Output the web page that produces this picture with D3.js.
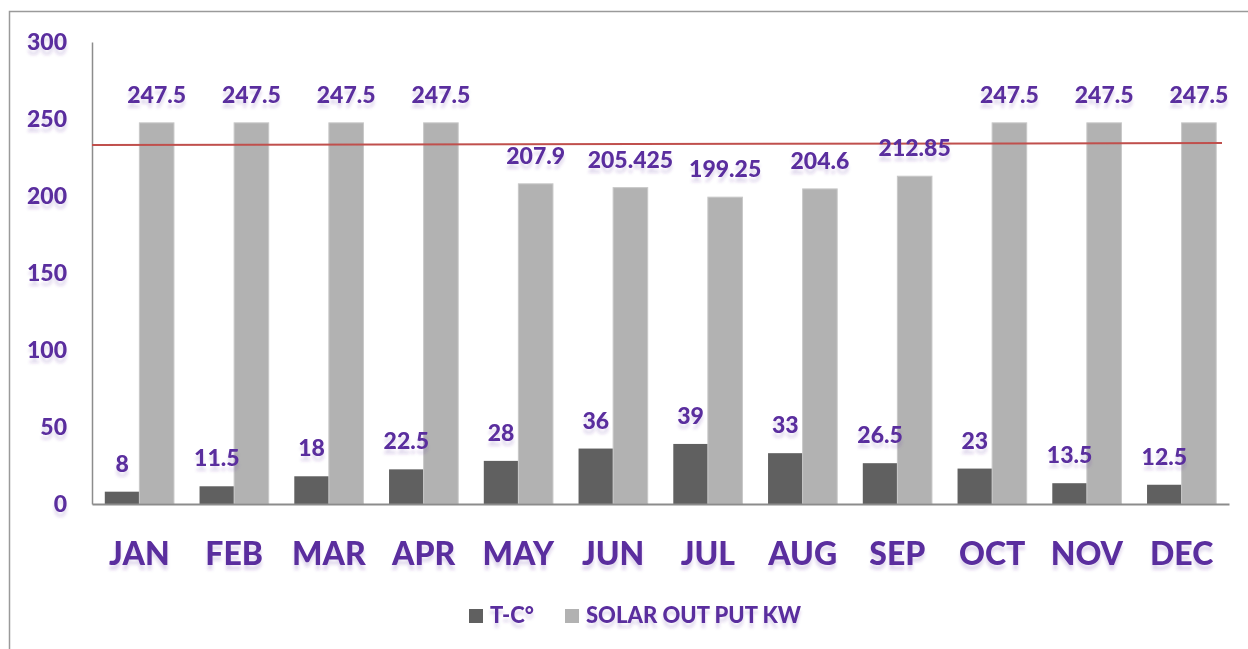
<!DOCTYPE html>
<html><head><meta charset="utf-8">
<script src="https://cdn.jsdelivr.net/npm/d3@7"></script>
<style>html,body{margin:0;padding:0;background:#fff;}svg{display:block;}</style>
</head><body>
<svg id="chart" width="1248" height="649"></svg>
<script>
const months = ["JAN","FEB","MAR","APR","MAY","JUN","JUL","AUG","SEP","OCT","NOV","DEC"];
const tempC = [8,11.5,18,22.5,28,36,39,33,26.5,23,13.5,12.5];
const solarKW = [247.5,247.5,247.5,247.5,207.9,205.425,199.25,204.6,212.85,247.5,247.5,247.5];
const yTicks = [0,50,100,150,200,250,300];
const seriesNames = ["T-C°","SOLAR OUT PUT KW"];
const refLine = [233.1, 234.4];

const purple = "#5a2d9e";
const colors = ["#606060","#b2b2b2"];
const font = "Lato, 'Open Sans', sans-serif";

const svg = d3.select("#chart");
const defs = svg.append("defs");
const f = defs.append("filter").attr("id","soft").attr("x","-10%").attr("y","-10%").attr("width","120%").attr("height","160%");
f.append("feOffset").attr("in","SourceAlpha").attr("dy",5).attr("result","off");
f.append("feGaussianBlur").attr("in","off").attr("stdDeviation",1.8).attr("result","blur");
f.append("feFlood").attr("flood-color",purple).attr("flood-opacity",0.18).attr("result","col");
f.append("feComposite").attr("in","col").attr("in2","blur").attr("operator","in").attr("result","sh");
const fm = f.append("feMerge");
fm.append("feMergeNode").attr("in","sh");
fm.append("feMergeNode").attr("in","SourceGraphic");

const pL = 92, pR = 1229, pT = 42, pB = 504;
const x = d3.scaleBand().domain(months).range([pL, pR]).paddingInner(0.27).paddingOuter(0.135);
const xs = d3.scaleBand().domain([0,1]).range([0, x.bandwidth()]);
const y = d3.scaleLinear().domain([0,300]).range([pB, pT]);

// outer frame
svg.append("path").attr("d","M9.5,649 L9.5,11.5 L1248,11.5").attr("fill","none").attr("stroke","#9a9a9a").attr("stroke-width",1.5);

function label(g, txt, tx, ty, size, anchor) {
  return g.append("text").attr("x",tx).attr("y",ty).attr("font-family",font).attr("font-weight",900)
    .attr("font-size",size).attr("fill",purple).attr("text-anchor",anchor).attr("filter","url(#soft)").text(txt);
}

// bars
const series = [tempC, solarKW];
series.forEach((vals, si) => {
  svg.append("g").selectAll("rect").data(months).join("rect")
    .attr("x", m => x(m) + xs(si))
    .attr("width", xs.bandwidth())
    .attr("y", (m,i) => y(vals[i]))
    .attr("height", (m,i) => y(0) - y(vals[i]))
    .attr("fill", colors[si])
    .attr("stroke", si === 1 ? "#c8c8c8" : "none").attr("stroke-width", 1);
});

// axes
const yAxis = d3.axisLeft(y).tickValues(yTicks).tickSize(0).tickFormat("");
const ga = svg.append("g").attr("transform",`translate(${pL},0)`).call(yAxis);
ga.select(".domain").attr("stroke","#8c8c8c").attr("stroke-width",1.5);
const xAxis = d3.axisBottom(x).tickSize(0).tickFormat("");
const gx = svg.append("g").attr("transform",`translate(0,${pB})`).call(xAxis);
gx.select(".domain").attr("stroke","#8c8c8c").attr("stroke-width",2);

// reference line
svg.append("line").attr("x1",pL).attr("x2",pR-7).attr("y1",y(refLine[0])).attr("y2",y(refLine[1]))
  .attr("stroke","#c0504d").attr("stroke-width",2);

// y tick labels
const gyl = svg.append("g");
yTicks.forEach(v => label(gyl, String(v), 67, y(v)+8, 23, "end"));

// x tick labels
const gxl = svg.append("g");
months.forEach(m => label(gxl, m, x(m)+x.bandwidth()/2, 565, 32, "middle"));

// data labels
const gdl = svg.append("g");
series.forEach((vals, si) => {
  months.forEach((m,i) => label(gdl, String(vals[i]), x(m)+xs(si)+xs.bandwidth()/2, y(vals[i])-20, 23, "middle"));
});

// legend
const lg = svg.append("g");
const legX = [469, 565];
seriesNames.forEach((n, i) => {
  lg.append("rect").attr("x",legX[i]).attr("y",609).attr("width",14).attr("height",14).attr("fill",colors[i]);
  label(lg, n, legX[i]+21, 623, 22, "start");
});
</script>
</body></html>
